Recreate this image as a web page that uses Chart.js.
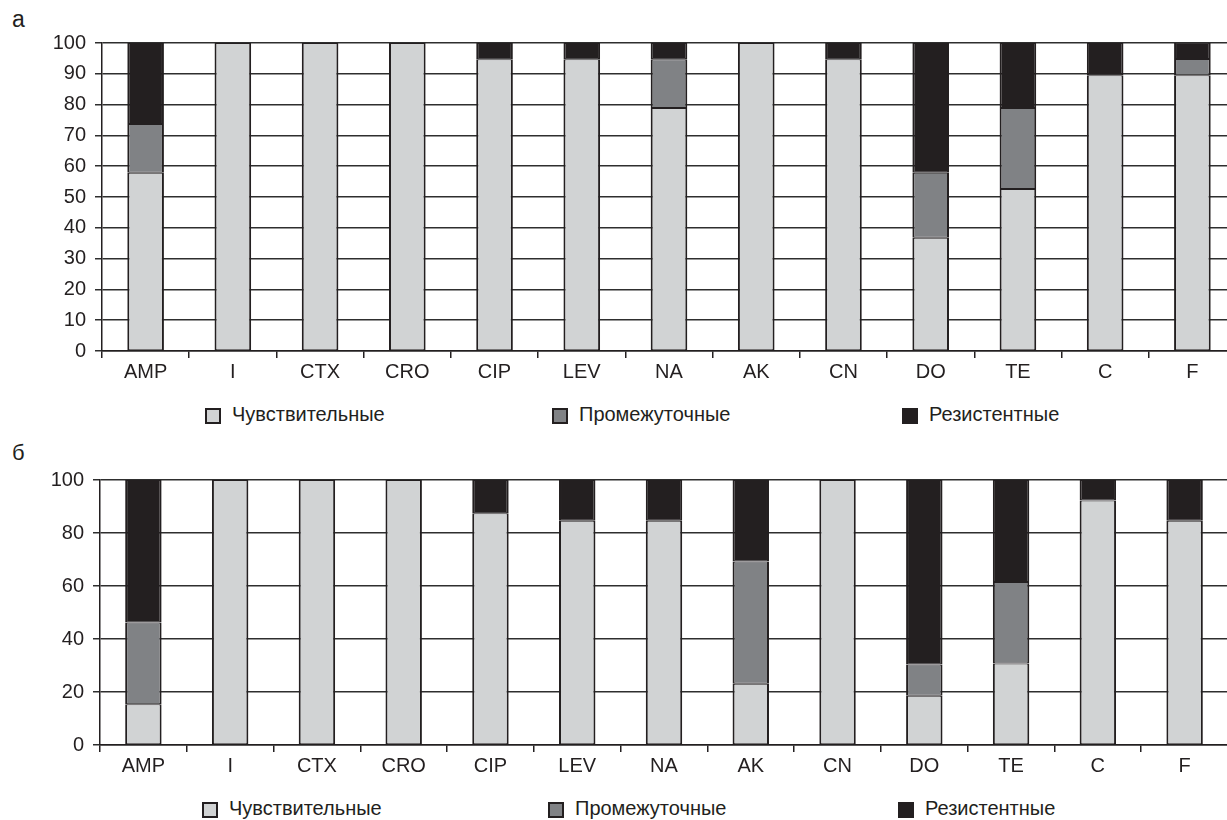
<!DOCTYPE html>
<html>
<head>
<meta charset="utf-8">
<script src="https://cdn.jsdelivr.net/npm/chart.js@4/dist/chart.umd.min.js"></script>
<style>
  html, body { margin:0; padding:0; background:#fff; width:1227px; height:820px; overflow:hidden; position:relative; }
  canvas { position:absolute; left:0; }
  .panel { position:absolute; left:12px; font-family:"Liberation Sans", Arial, sans-serif; color:#231f20; }
  .leg { position:absolute; font-family:"Liberation Sans", Arial, sans-serif; font-size:20px; color:#231f20; white-space:nowrap; line-height:20px; }
  .leg span.box { position:absolute; left:0; top:2px; width:12px; height:12px; border:2px solid #231f20; box-sizing:content-box; }
  .leg span.txt { position:absolute; top:-2px; }
</style>
</head>
<body>
<div class="panel" style="top:6px;font-size:23px;">а</div>
<div class="panel" style="top:440px;font-size:22px;">б</div>
<canvas id="ca" width="1236" height="385" style="top:0px;width:1236px;height:385px;"></canvas>
<canvas id="cb" width="1228" height="342" style="top:437px;width:1228px;height:342px;"></canvas>
<div id="legA"></div>
<div id="legB"></div>
<script>
const categories = ['AMP','I','CTX','CRO','CIP','LEV','NA','AK','CN','DO','TE','C','F'];
const seriesNames = ['Чувствительные','Промежуточные','Резистентные'];
const seriesColors = ['#d1d3d4','#808285','#231f20'];

// Panel а
const aSensitive    = [57.9,100,100,100,94.7,94.7,78.9,100,94.7,36.8,52.6,89.5,89.5];
const aIntermediate = [15.8,0,0,0,0,0,15.8,0,0,21.1,26.3,0,5.3];
const aResistant    = [26.3,0,0,0,5.3,5.3,5.3,0,5.3,42.1,21.1,10.5,5.3];
const aTickStep = 10;

// Panel б
const bSensitive    = [15.4,100,100,100,87.5,84.6,84.6,23.1,100,18.6,30.8,92.3,84.6];
const bIntermediate = [30.8,0,0,0,0,0,0,46.1,0,11.8,30.7,0,0];
const bResistant    = [53.8,0,0,0,12.5,15.4,15.4,30.8,0,69.6,38.5,7.7,15.4];
const bTickStep = 20;

const ink = '#231f20';
const gridCol = '#2e2e2e';
const font = { family: '"Liberation Sans", Arial, sans-serif', size: 20 };

function makeChart(id, series, step, yWidth, xHeight) {
  const datasets = series.map((vals, i) => ({
    label: seriesNames[i],
    data: vals,
    backgroundColor: seriesColors[i],
    borderColor: ink,
    borderWidth: {top:1, bottom:1, left:2, right:2},
    borderSkipped: false,
    barPercentage: 0.42,
    categoryPercentage: 1.0
  }));
  return new Chart(document.getElementById(id), {
    type: 'bar',
    data: { labels: categories, datasets },
    options: {
      responsive: false,
      animation: false,
      devicePixelRatio: 1,
      layout: { padding: { top: 43, left: 0, right: 0, bottom: 0 } },
      plugins: { legend: { display: false }, tooltip: { enabled: false } },
      scales: {
        x: {
          stacked: true,
          grid: { display: true, offset: true, drawOnChartArea: false, drawTicks: true, tickLength: 7, color: ink, lineWidth: 1.5 },
          border: { display: true, color: ink, width: 1.5 },
          ticks: { color: ink, font, padding: 2, maxRotation: 0, autoSkip: false },
          afterFit: s => { s.height = xHeight; }
        },
        y: {
          stacked: true,
          min: 0, max: 100,
          grid: { display: true, drawOnChartArea: true, drawTicks: true, tickLength: 7, color: gridCol, lineWidth: 1.5 },
          border: { display: true, color: ink, width: 1.5 },
          ticks: { stepSize: step, color: ink, font, padding: 9 },
          afterFit: s => { s.width = yWidth; }
        }
      }
    }
  });
}

makeChart('ca', [aSensitive, aIntermediate, aResistant], aTickStep, 102, 34);
makeChart('cb', [bSensitive, bIntermediate, bResistant], bTickStep, 100, 34);

function makeLegend(id, top, lefts) {
  const host = document.getElementById(id);
  seriesNames.forEach((name, i) => {
    const d = document.createElement('div');
    d.className = 'leg';
    d.style.left = lefts[i] + 'px';
    d.style.top = top + 'px';
    const b = document.createElement('span');
    b.className = 'box';
    b.style.background = seriesColors[i];
    const t = document.createElement('span');
    t.className = 'txt';
    t.style.left = '27px';
    t.textContent = name;
    d.appendChild(b); d.appendChild(t);
    host.appendChild(d);
  });
}
makeLegend('legA', 406, [205, 552, 902]);
makeLegend('legB', 800, [202, 548, 898]);
</script>
</body>
</html>
